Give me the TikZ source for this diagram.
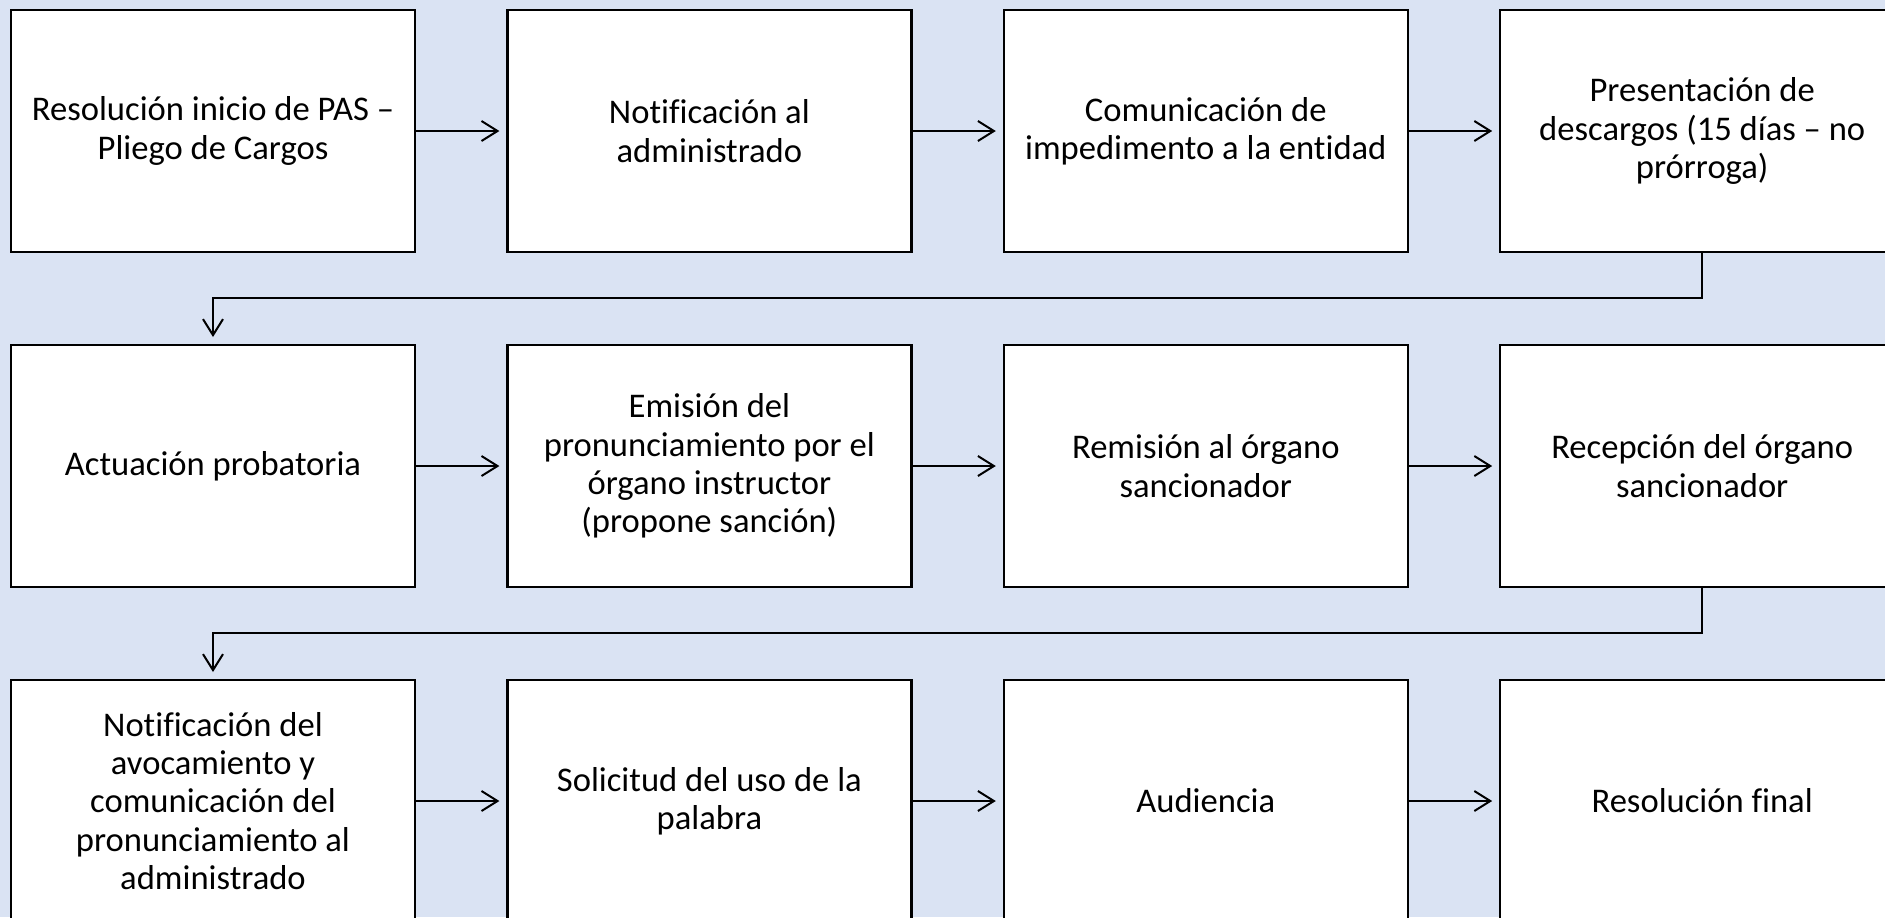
\documentclass[tikz,border=0pt]{standalone}
\usepackage{fontspec}
\setmainfont{Carlito}[Ligatures=NoCommon]
\usetikzlibrary{positioning,arrows.meta}
\definecolor{fondo}{HTML}{DAE3F3}
\tikzset{
  paso/.style={draw, line width=1.2pt, outer sep=0pt, fill=white, minimum width=202pt, minimum height=121pt,
    inner sep=0pt, align=center, font=\fontsize{17.3}{19.2}\selectfont},
  flecha/.style={-{Straight Barb[length=8pt,width=10pt]}, line width=1pt, shorten >=4pt}
}
\begin{document}
\begin{tikzpicture}[node distance=46.5pt and 46.2pt]
	\useasboundingbox (0,0) rectangle (942.5pt,-458.5pt);
	\clip (0,0) rectangle (942.5pt,-458.5pt);
	\fill[fondo] (0,0) rectangle (942.5pt,-458.5pt);
	% fila 1
	\node[paso, anchor=north west] (res) at (5.5pt,-5pt) {Resolución inicio de PAS –\\Pliego de Cargos};
	\node[paso, right=of res] (notif) {Notificación al\\administrado};
	\node[paso, right=of notif] (comun) {Comunicación de\\impedimento a la entidad};
	\node[paso, right=of comun] (desc) {Presentación de\\descargos (15 días – no\\prórroga)};
	% fila 2
	\node[paso, below=of res] (act) {Actuación probatoria};
	\node[paso, right=of act] (emis) {Emisión del\\pronunciamiento por el\\órgano instructor\\(propone sanción)};
	\node[paso, right=of emis] (remis) {Remisión al órgano\\sancionador};
	\node[paso, right=of remis] (recep) {Recepción del órgano\\sancionador};
	% fila 3
	\node[paso, below=of act] (avoc) {Notificación del\\avocamiento y\\comunicación del\\pronunciamiento al\\administrado};
	\node[paso, right=of avoc] (sol) {Solicitud del uso de la\\palabra};
	\node[paso, right=of sol] (aud) {Audiencia};
	\node[paso, right=of aud] (final) {Resolución final};
	% flechas
	\draw[flecha] (res)--(notif);
	\draw[flecha] (notif)--(comun);
	\draw[flecha] (comun)--(desc);
	\draw[flecha] (desc.south)--++(0,-23pt) -| (act.north);
	\draw[flecha] (act)--(emis);
	\draw[flecha] (emis)--(remis);
	\draw[flecha] (remis)--(recep);
	\draw[flecha] (recep.south)--++(0,-23pt) -| (avoc.north);
	\draw[flecha] (avoc)--(sol);
	\draw[flecha] (sol)--(aud);
	\draw[flecha] (aud)--(final);
\end{tikzpicture}
\end{document}
